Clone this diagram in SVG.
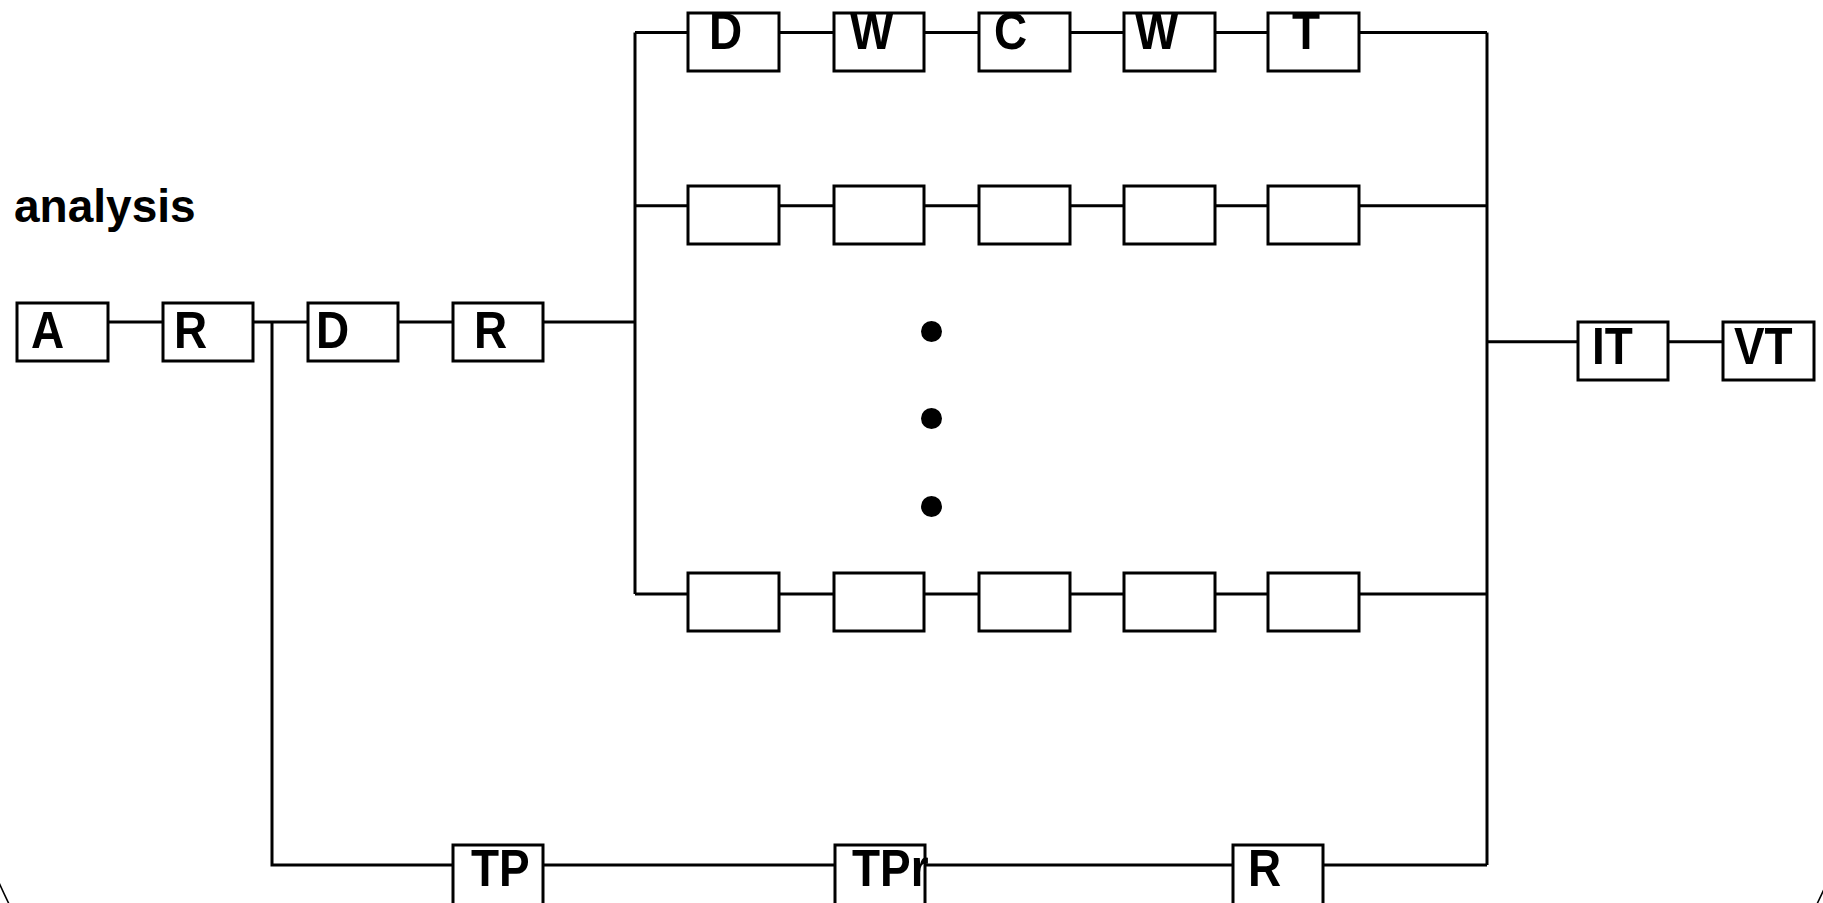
<svg xmlns="http://www.w3.org/2000/svg" width="1823" height="903" viewBox="0 0 1823 903">
<style>
.box{fill:#fff;stroke:#000;stroke-width:3}
.ln{fill:none;stroke:#000;stroke-width:3}
.lbl{font-family:"Liberation Sans",Arial,sans-serif;font-weight:bold;font-size:51px;fill:#000}
.ttl{font-family:"Liberation Sans",Arial,sans-serif;font-weight:bold;font-size:46px;fill:#000}
.dot{fill:#000}
</style>
<rect width="1823" height="903" fill="#fff"/>
<ellipse cx="913" cy="440" rx="1010" ry="1040" fill="none" stroke="#000" stroke-width="1.6"/>
<g id="connectors">
<path class="ln" d="M108,322 H163 M253,322 H308 M398,322 H453 M543,322 H635"/>
<path class="ln" d="M272,322 V865 H453 M543,865 H835 M925,865 H1233 M1323,865 H1487"/>
<path class="ln" d="M635,32.6 V594"/>
<path class="ln" d="M1487,32.6 V865"/>
<path class="ln" d="M635,32.6 H688 M779,32.6 H834 M924,32.6 H979 M1070,32.6 H1124 M1215,32.6 H1268 M1359,32.6 H1487"/>
<path class="ln" d="M635,205.8 H688 M779,205.8 H834 M924,205.8 H979 M1070,205.8 H1124 M1215,205.8 H1268 M1359,205.8 H1487"/>
<path class="ln" d="M635,594 H688 M779,594 H834 M924,594 H979 M1070,594 H1124 M1215,594 H1268 M1359,594 H1487"/>
<path class="ln" d="M1487,341.8 H1578 M1668,341.8 H1723"/>
</g>
<g id="title"><text class="ttl" x="14" y="222">analysis</text></g>
<g id="n-A"><rect class="box" x="17" y="303" width="91" height="58"/><text class="lbl" transform="translate(31,348) scale(0.9,1)">A</text></g>
<g id="n-R1"><rect class="box" x="163" y="303" width="90" height="58"/><text class="lbl" transform="translate(174,348) scale(0.9,1)">R</text></g>
<g id="n-D1"><rect class="box" x="308" y="303" width="90" height="58"/><text class="lbl" transform="translate(316,348) scale(0.9,1)">D</text></g>
<g id="n-R2"><rect class="box" x="453" y="303" width="90" height="58"/><text class="lbl" transform="translate(474,348) scale(0.9,1)">R</text></g>
<g id="r1-D"><rect class="box" x="688" y="13" width="91" height="58"/><text class="lbl" transform="translate(709,49) scale(0.9,1)">D</text></g>
<g id="r1-W1"><rect class="box" x="834" y="13" width="90" height="58"/><text class="lbl" transform="translate(850,49) scale(0.9,1)">W</text></g>
<g id="r1-C"><rect class="box" x="979" y="13" width="91" height="58"/><text class="lbl" transform="translate(994,49) scale(0.9,1)">C</text></g>
<g id="r1-W2"><rect class="box" x="1124" y="13" width="91" height="58"/><text class="lbl" transform="translate(1135,49) scale(0.9,1)">W</text></g>
<g id="r1-T"><rect class="box" x="1268" y="13" width="91" height="58"/><text class="lbl" transform="translate(1292,49) scale(0.9,1)">T</text></g>
<g id="r2-1"><rect class="box" x="688" y="186" width="91" height="58"/></g>
<g id="r2-2"><rect class="box" x="834" y="186" width="90" height="58"/></g>
<g id="r2-3"><rect class="box" x="979" y="186" width="91" height="58"/></g>
<g id="r2-4"><rect class="box" x="1124" y="186" width="91" height="58"/></g>
<g id="r2-5"><rect class="box" x="1268" y="186" width="91" height="58"/></g>
<g id="dots"><circle class="dot" cx="931.5" cy="331.5" r="10.5"/><circle class="dot" cx="931.5" cy="418.5" r="10.5"/><circle class="dot" cx="931.5" cy="506.5" r="10.5"/></g>
<g id="r3-1"><rect class="box" x="688" y="573" width="91" height="58"/></g>
<g id="r3-2"><rect class="box" x="834" y="573" width="90" height="58"/></g>
<g id="r3-3"><rect class="box" x="979" y="573" width="91" height="58"/></g>
<g id="r3-4"><rect class="box" x="1124" y="573" width="91" height="58"/></g>
<g id="r3-5"><rect class="box" x="1268" y="573" width="91" height="58"/></g>
<g id="n-IT"><rect class="box" x="1578" y="322" width="90" height="58"/><text class="lbl" transform="translate(1592,364) scale(0.9,1)">IT</text></g>
<g id="n-VT"><rect class="box" x="1723" y="322" width="91" height="58"/><text class="lbl" transform="translate(1734,364) scale(0.9,1)">VT</text></g>
<g id="n-TP"><rect class="box" x="453" y="845" width="90" height="60"/><text class="lbl" transform="translate(471,886) scale(0.9,1)">TP</text></g>
<g id="n-TPr"><rect class="box" x="835" y="845" width="90" height="60"/><text class="lbl" transform="translate(852,886) scale(0.9,1)">TPr</text></g>
<g id="n-R3"><rect class="box" x="1233" y="845" width="90" height="60"/><text class="lbl" transform="translate(1248,886) scale(0.9,1)">R</text></g>
</svg>
